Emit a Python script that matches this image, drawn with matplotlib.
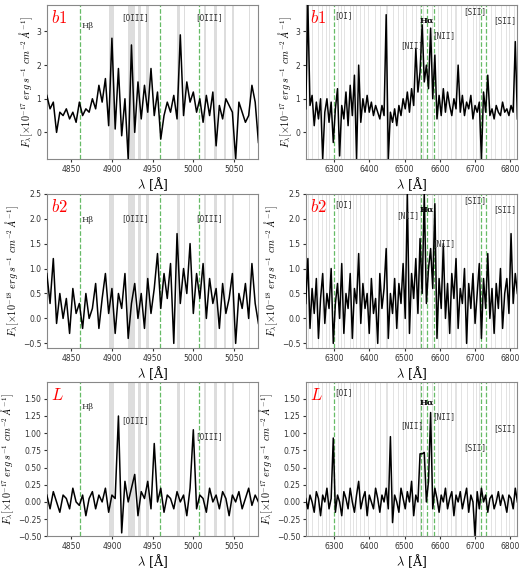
import numpy as np
import matplotlib
matplotlib.use("Agg")
import matplotlib.pyplot as plt

plt.rcParams['mathtext.fontset'] = 'cm'
plt.rcParams['font.family'] = 'DejaVu Sans'

wl_left = np.arange(4820, 5081, 4)
wl_right = np.arange(6220, 6821, 6)

b1_left = [1.1,0.7,0.9,0.0,0.6,0.5,0.7,0.4,0.6,0.3,0.9,0.5,0.7,0.6,1.0,0.7,1.4,0.9,1.6,0.2,2.8,0.1,1.9,-0.1,1.0,-0.8,2.6,0.0,1.5,0.4,1.4,0.6,1.9,0.5,1.2,-0.2,0.5,0.9,0.6,1.1,0.4,2.9,0.5,1.5,0.9,1.2,0.6,1.0,0.3,1.1,0.5,1.2,-0.4,0.8,0.4,1.0,0.8,0.6,-0.8,0.9,0.6,0.3,0.5,1.4,0.9,-0.3]
b1_right = [0.7,3.8,0.8,1.1,0.2,0.9,0.4,1.0,-0.8,0.6,1.0,0.3,0.9,-0.3,0.7,1.3,-0.7,0.8,0.4,1.2,0.2,1.4,0.5,1.7,-0.8,2.0,0.3,1.0,0.6,1.1,0.6,0.9,0.5,0.8,0.6,0.4,0.8,0.5,3.5,-0.8,0.6,0.3,0.7,0.2,0.8,0.5,1.0,0.7,1.2,0.6,1.3,0.8,2.5,1.2,1.8,3.2,1.5,2.0,1.3,3.1,1.0,2.3,0.4,1.1,0.5,1.3,0.6,1.2,0.8,0.5,1.0,0.7,2.0,0.6,1.1,0.5,0.9,0.7,1.1,0.4,0.8,0.6,0.9,-0.8,1.2,0.6,1.7,0.5,0.7,0.4,0.8,0.6,0.5,0.9,0.6,0.7,0.5,0.8,0.6,2.7,0.4]
b2_left = [0.9,0.3,1.2,-0.1,0.5,0.0,0.4,-0.3,0.6,0.1,0.3,-0.2,0.5,0.0,0.2,0.7,-0.2,0.4,0.9,0.1,0.6,-0.3,0.5,0.2,0.9,-0.4,0.3,0.7,0.0,0.5,-0.2,0.8,0.1,0.6,1.3,0.2,0.9,0.4,1.1,-0.5,1.7,0.3,1.0,0.5,1.5,0.1,0.9,0.4,1.1,0.0,0.8,0.3,0.6,-0.2,0.7,0.1,0.4,0.9,-0.5,0.5,0.2,0.7,0.0,1.1,0.3,-0.1]
b2_right = [0.3,1.2,-0.2,0.6,0.1,0.8,-0.4,0.4,0.9,-0.1,0.5,0.2,1.0,-0.5,0.3,0.7,0.0,1.1,-0.3,0.5,0.2,0.9,-0.4,0.6,0.3,1.3,-0.1,0.7,0.2,0.5,-0.3,0.8,0.1,0.4,-0.5,0.9,0.2,0.6,1.4,-0.4,0.5,0.1,0.8,-0.2,0.7,0.3,1.1,0.0,2.5,-0.3,0.9,0.4,1.2,0.1,1.6,0.5,2.5,0.3,1.0,1.4,0.6,2.3,-0.4,0.8,0.2,1.5,0.0,0.7,-0.3,0.9,0.4,1.2,-0.2,0.6,0.3,1.0,-0.5,0.7,0.2,0.9,-0.1,0.5,1.1,-0.4,0.8,0.2,1.3,0.0,0.6,-0.3,0.7,0.2,1.0,-0.2,0.5,0.8,0.1,1.7,0.3,0.9,0.5]
L_left = [0.1,-0.1,0.15,0.0,-0.15,0.1,0.05,-0.1,0.2,0.0,-0.05,0.1,-0.2,0.05,0.15,-0.1,0.1,0.0,0.2,-0.15,0.1,0.05,1.25,-0.45,0.3,0.0,0.2,0.4,-0.2,0.15,0.05,0.3,-0.1,0.85,0.0,0.2,-0.15,0.1,0.05,-0.1,0.15,0.0,0.1,-0.2,0.2,1.05,-0.1,0.1,0.05,-0.15,0.2,0.0,0.1,-0.1,0.15,0.05,-0.2,0.1,0.0,0.15,-0.1,0.05,0.2,-0.05,0.1,0.0]
L_right = [0.05,-0.1,0.1,0.0,-0.15,0.15,0.05,-0.2,0.1,0.0,0.2,-0.1,0.05,0.93,-0.15,0.1,0.0,-0.2,0.15,0.05,-0.1,0.2,0.0,-0.15,0.1,0.3,-0.1,0.05,0.15,-0.2,0.1,0.0,-0.1,0.2,0.05,-0.15,0.1,0.0,0.2,-0.1,0.95,-0.3,0.1,0.0,-0.15,0.2,0.05,-0.1,0.15,0.0,0.3,-0.2,0.1,0.0,0.7,0.7,0.72,0.0,0.3,1.3,-0.1,0.2,0.05,-0.15,0.1,0.0,0.2,-0.1,0.05,0.15,-0.2,0.1,0.0,0.15,-0.1,0.05,0.2,-0.15,0.1,0.0,-0.5,0.15,-0.1,0.2,0.0,0.1,-0.15,0.05,0.1,-0.1,0.0,0.15,-0.05,0.1,0.0,-0.15,0.1,0.05,-0.1,0.2,0.0]

panels = [("$b1$", b1_left, b1_right, (-0.8, 3.8), (-0.8, 3.8), [0, 1, 2, 3], "17"),
          ("$b2$", b2_left, b2_right, (-0.6, 2.5), (-0.6, 2.5), [-0.5, 0.0, 0.5, 1.0, 1.5, 2.0, 2.5], "18"),
          ("$L$", L_left, L_right, (-0.5, 1.75), (-0.5, 1.75), [-0.5, -0.25, 0.0, 0.25, 0.5, 0.75, 1.0, 1.25, 1.5], "17")]

sky_left = [(4896, 4903), (4920, 4928), (4932, 4936), (4942, 4946), (4980, 4984), (4988, 4990),
            (5013, 5015), (5026, 5029), (5038, 5040), (5048, 5050), (5068, 5070)]
sky_right = [6228, 6240, 6256, 6268, 6278, 6288, 6312, 6322, 6330, 6348, 6356, 6364, 6376, 6386, 6398,
             6418, 6432, 6448, 6452, 6470, 6484, 6498, 6506, 6522, 6534, 6544, 6554, 6578, 6596, 6604,
             6622, 6634, 6646, 6662, 6678, 6696, 6704, 6712, 6746, 6758, 6774, 6788, 6798, 6812]
left_lines = [4861, 4959, 5007]
right_lines = [6300, 6548, 6563, 6583, 6716, 6731]

fig = plt.figure(figsize=(5.2, 5.73), dpi=100)
bottoms = [0.722, 0.392, 0.064]
h = 0.27
lab_kw = dict(fontsize=5.5, family='DejaVu Sans Mono', color='#333333')

for r, (name, yl, yr, ylimL, ylimR, yt, exp) in enumerate(panels):
    for c in range(2):
        ax = fig.add_axes([[0.09, 0.588][c], bottoms[r], 0.407, h])
        if c == 0:
            x, y, xlim, ylim = wl_left, yl, (4820, 5080), ylimL
            for a, b in sky_left:
                ax.axvspan(a, b, color='#dddddd', lw=0, zorder=0)
            for l in left_lines:
                ax.axvline(l, color='#66bb66', ls='--', lw=0.9, zorder=1)
            ax.set_xticks([4850, 4900, 4950, 5000, 5050])
        else:
            x, y, xlim, ylim = wl_right, yr, (6220, 6820), ylimR
            for s in sky_right:
                ax.axvspan(s - 1.5, s + 1.5, color='#e3e3e3', lw=0, zorder=0)
            for l in right_lines:
                ax.axvline(l, color='#66bb66', ls='--', lw=0.9, zorder=1)
            ax.set_xticks([6300, 6400, 6500, 6600, 6700, 6800])
        ax.plot(x, y, color='black', lw=1.1, zorder=3)
        ax.set_xlim(*xlim)
        ax.set_ylim(*ylim)
        ax.set_yticks(yt)
        ax.tick_params(labelsize=5.5, colors='#333333', length=2, pad=2)
        for sp in ax.spines.values():
            sp.set_color('#888888')
        ax.set_xlabel(r"$\lambda$ [Å]", fontsize=9, family='DejaVu Serif', labelpad=1)
        ax.set_ylabel(r"$F_\lambda[\times10^{-%s}\ erg\ s^{-1}\ cm^{-2}\ \AA^{-1}]$" % exp, fontsize=7.3, labelpad=1)
        ax.text(0.02, 0.97, name, transform=ax.transAxes, color='red', fontsize=12, va='top', ha='left')
        t = ax.get_xaxis_transform()
        if c == 0:
            ax.text(4863, 0.82 if r else 0.85, "Hβ", transform=t, fontsize=6, family='DejaVu Serif', color='#333333')
            ax.text(4928, 0.9 if r == 0 else 0.82 if r == 1 else 0.73, "[OIII]", transform=t, ha='center', **lab_kw)
            ax.text(5020, 0.9 if r == 0 else 0.82 if r == 1 else 0.63, "[OIII]", transform=t, ha='center', **lab_kw)
        else:
            ax.text(6300, 0.91, "[OI]", transform=t, **lab_kw)
            ax.text(6522 if r != 1 else 6508, 0.72 if r == 0 else 0.84 if r == 1 else 0.7, "[NII]", transform=t, ha='center', **lab_kw)
            ax.text(6563, 0.88 if r < 2 else 0.85, "Hα", transform=t, ha='center', fontsize=6, fontweight='bold', family='DejaVu Serif')
            ax.text(6610, 0.78 if r == 0 else 0.66 if r == 1 else 0.76, "[NII]", transform=t, ha='center', **lab_kw)
            ax.text(6700, 0.94 if r < 2 else 0.56, "[SII]", transform=t, ha='center', **lab_kw)
            ax.text(6785, 0.88 if r < 2 else 0.68, "[SII]", transform=t, ha='center', **lab_kw)

fig.savefig("out.png", dpi=100)
